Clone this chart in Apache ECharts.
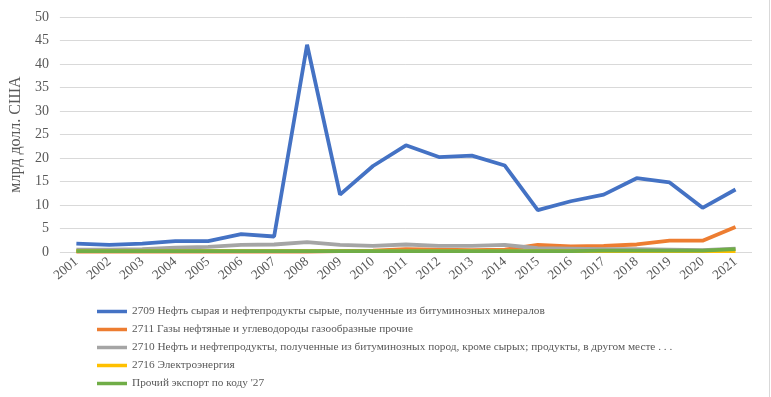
<!DOCTYPE html>
<html><head><meta charset="utf-8">
<script src="https://cdn.jsdelivr.net/npm/echarts@6/dist/echarts.min.js"></script>
<style>html,body{margin:0;padding:0;background:#fff}#c{width:771px;height:397px}</style>
</head><body><div id="c"></div>
<script>
const years = ['2001','2002','2003','2004','2005','2006','2007','2008','2009','2010','2011','2012','2013','2014','2015','2016','2017','2018','2019','2020','2021'];
const names = [
  '2709 Нефть сырая и нефтепродукты сырые, полученные из битуминозных минералов',
  '2711 Газы нефтяные и углеводороды газообразные прочие',
  '2710 Нефть и нефтепродукты, полученные из битуминозных пород, кроме сырых; продукты, в другом месте . . .',
  '2716 Электроэнергия',
  'Прочий экспорт по коду \'27'
];
const s2709 = [1.8,1.5,1.8,2.3,2.3,3.8,3.3,44.1,12.2,18.3,22.7,20.2,20.5,18.4,8.9,10.8,12.2,15.7,14.8,9.4,13.3];
const s2711 = [0.1,0.1,0.1,0.1,0.1,0.1,0.1,0.1,0.2,0.3,0.6,0.5,0.4,0.5,1.5,1.2,1.3,1.6,2.4,2.4,5.3];
const s2710 = [0.5,0.5,0.6,0.9,1.1,1.5,1.6,2.1,1.5,1.3,1.6,1.3,1.3,1.5,0.8,0.7,0.6,0.6,0.5,0.4,0.7];
const s2716 = [0.2,0.2,0.2,0.2,0.2,0.2,0.2,0.2,0.2,0.2,0.2,0.2,0.2,0.2,0.2,0.2,0.2,0.2,0.2,0.2,0.2];
const sOther = [0.2,0.2,0.2,0.2,0.2,0.2,0.2,0.2,0.2,0.2,0.2,0.2,0.2,0.2,0.2,0.2,0.3,0.3,0.3,0.3,0.6];
const yTicks = [0,5,10,15,20,25,30,35,40,45,50];
const colors = ['#4472C4','#ED7D31','#A5A5A5','#FFC000','#70AD47'];
const seriesData = [s2709, s2711, s2710, s2716, sOther];
const font = '"Liberation Serif","DejaVu Serif",serif';

const chart = echarts.init(document.getElementById('c'));
chart.setOption({
  animation: false,
  color: colors,
  textStyle: {fontFamily: font},
  grid: {left: 58, right: 19, top: 17, bottom: 145, containLabel: false},
  xAxis: {
    type: 'category', data: years, boundaryGap: true,
    axisLine: {show: false}, axisTick: {show: false},
    axisLabel: {rotate: 40, color: '#595959', fontFamily: font, fontSize: 13.5, margin: 8, interval: 0}
  },
  yAxis: {
    type: 'value', min: yTicks[0], max: yTicks[yTicks.length-1], interval: 5,
    name: 'млрд долл. США', nameLocation: 'middle', nameGap: 33,
    nameTextStyle: {fontFamily: font, fontSize: 16, color: '#595959'},
    axisLine: {show: false}, axisTick: {show: false},
    axisLabel: {color: '#595959', fontFamily: font, fontSize: 14, margin: 11},
    splitLine: {lineStyle: {color: '#D9D9D9', width: 1}}
  },
  legend: {
    orient: 'vertical', left: 92, top: 301, itemGap: 7,
    icon: 'rect', itemWidth: 30, itemHeight: 3.5,
    textStyle: {fontFamily: font, fontSize: 11.3, color: '#595959'},
    data: names
  },
  graphic: [{type: 'line', shape: {x1: 769.5, y1: 0, x2: 769.5, y2: 397}, style: {stroke: '#D9D9D9', lineWidth: 1}}],
  series: names.map((n, i) => ({
    name: n, type: 'line', data: seriesData[i], symbol: 'none',
    lineStyle: {width: 3.8, color: colors[i]}
  }))
});
</script></body></html>
